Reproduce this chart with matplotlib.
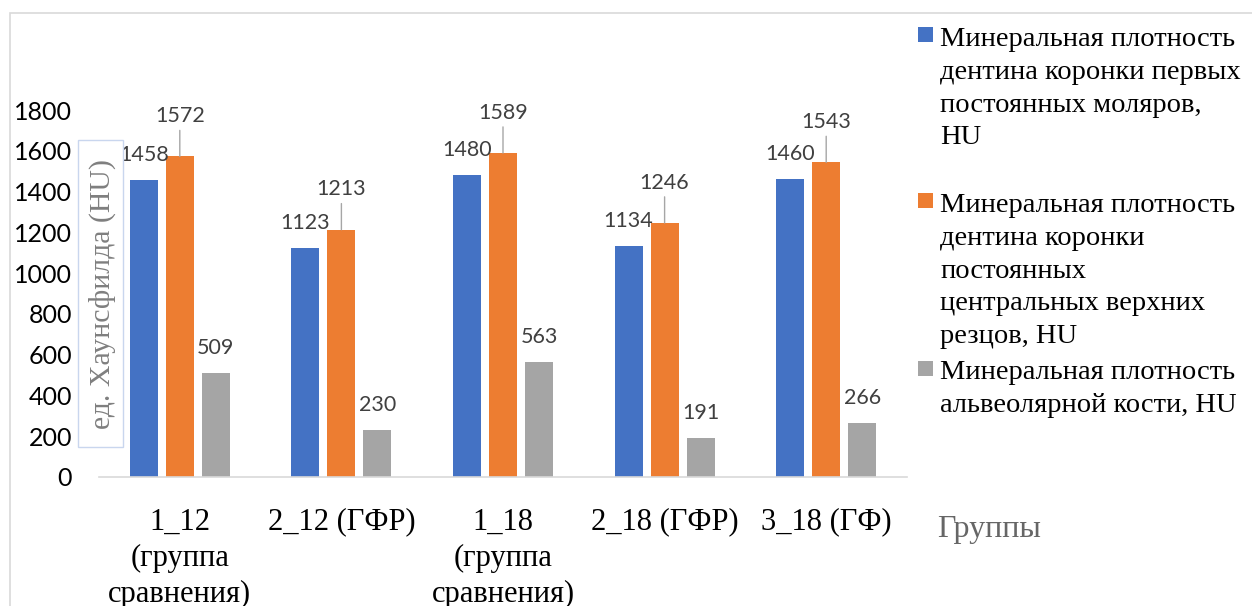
import matplotlib
matplotlib.use("Agg")
import matplotlib.pyplot as plt
from matplotlib.patches import Rectangle
import numpy as np

groups = ["1_12\n(группа\nсравнения)", "2_12 (ГФР)", "1_18\n(группа\nсравнения)",
          "2_18 (ГФР)", "3_18 (ГФ)"]
molars = [1458, 1123, 1480, 1134, 1460]
incisors = [1572, 1213, 1589, 1246, 1543]
bone = [509, 230, 563, 191, 266]

series_names = [
    "Минеральная плотность\nдентина коронки первых\nпостоянных моляров,\nHU",
    "Минеральная плотность\nдентина коронки\nпостоянных\nцентральных верхних\nрезцов, HU",
    "Минеральная плотность\nальвеолярной кости, HU",
]
colors = ["#4472c4", "#ed7d31", "#a5a5a5"]

W, H = 1252, 606
fig = plt.figure(figsize=(W / 100, H / 100), dpi=100)
ax = fig.add_axes([99 / W, (H - 477) / H, 808 / W, 367 / H])

serif = "Liberation Serif"
sans = "Lato"

x = np.arange(len(groups))
width = 0.173
step = 0.223
all_vals = [molars, incisors, bone]
for i, (vals, c) in enumerate(zip(all_vals, colors)):
    pos = x + (i - 1) * step
    ax.bar(pos, vals, width, color=c, zorder=2)
    for px_, v in zip(pos, vals):
        if i == 1:
            # orange labels sit higher, with a short leader line
            ax.annotate(str(v), (px_, v), xytext=(0, 29), textcoords="offset points",
                        ha="center", va="center", fontsize=15.5, family=sans,
                        color="#404040",
                        arrowprops=dict(arrowstyle="-", color="#a6a6a6", lw=1,
                                        shrinkA=1, shrinkB=0))
        else:
            ax.annotate(str(v), (px_, v), xytext=(0, 18), textcoords="offset points",
                        ha="center", va="center", fontsize=15.5, family=sans,
                        color="#404040")

ax.set_xlim(-0.5, len(groups) - 0.5)
ax.set_ylim(0, 1800)
ax.set_yticks(range(0, 1801, 200))
ax.tick_params(axis="y", length=0, pad=19.5, labelsize=18, labelcolor="black")
for lbl in ax.get_yticklabels():
    lbl.set_family(sans)
ax.set_xticks(x)
ax.set_xticklabels(groups, family=serif, fontsize=22, linespacing=1.33)
ax.tick_params(axis="x", length=0, pad=22)

for s in ["top", "right", "left"]:
    ax.spines[s].set_visible(False)
ax.spines["bottom"].set_color("#d9d9d9")
ax.spines["bottom"].set_linewidth(1.2)

# y axis title in its framed box
fig.add_artist(Rectangle((78 / W, (H - 447) / H), 45 / W, 307 / H,
                         transform=fig.transFigure, facecolor="white",
                         edgecolor="#c9d6ee", lw=1, zorder=3))
fig.text(102 / W, (H - 294) / H, "ед. Хаунсфилда (HU)", rotation=90,
         ha="center", va="center", family=serif, fontsize=21.5, color="#7f7f7f",
         zorder=4)

# x axis title
fig.text(937 / W, (H - 537) / H, "Группы", ha="left", va="baseline",
         family=serif, fontsize=23, color="#666666")

# legend
sq_tops = [27, 193, 361]
text_tops = [27, 193, 360]
for name, c, sq, top in zip(series_names, colors, sq_tops, text_tops):
    fig.add_artist(Rectangle((918 / W, (H - sq - 15) / H), 15 / W, 15 / H,
                             transform=fig.transFigure, facecolor=c, edgecolor="none"))
    fig.text(940 / W, (H - top) / H, name, ha="left", va="top",
             family=serif, fontsize=20.5, color="black", linespacing=1.41)

# chart frame
fig.add_artist(Rectangle((10 / W, -0.1), 1.2, (H - 13) / H + 0.1,
                         transform=fig.transFigure, facecolor="none",
                         edgecolor="#d9d9d9", lw=1.2))

fig.savefig("out.png", dpi=100)
